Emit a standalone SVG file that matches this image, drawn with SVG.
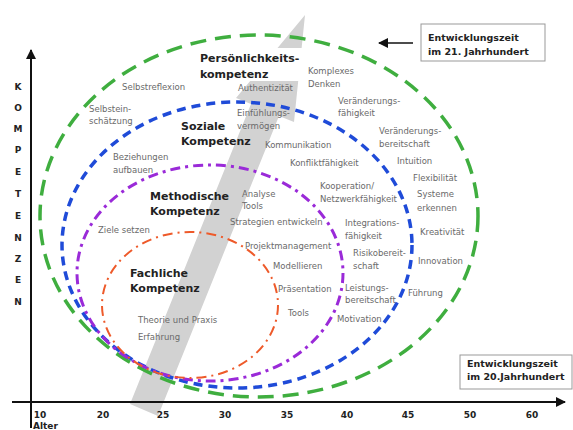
<svg xmlns="http://www.w3.org/2000/svg" width="573" height="430" viewBox="0 0 573 430">
<style>
text{font-family:"DejaVu Sans",Verdana,sans-serif}
.t{font-size:8.5px;fill:#6a6a6a}
.b{font-size:11px;font-weight:bold;fill:#222}
.bx{font-size:9.5px;font-weight:bold;fill:#222}
.ax{font-size:9px;font-weight:bold;fill:#222}
.v{font-size:9px;font-weight:bold;fill:#222;text-anchor:middle}
.ell{fill:none}
</style>
<defs>
<marker id="ah" markerWidth="10" markerHeight="10" refX="9" refY="5" orient="auto" markerUnits="userSpaceOnUse">
<path d="M0,0 L10,5 L0,10 z" fill="#111"/>
</marker>
</defs>
<rect width="573" height="430" fill="#fff"/>
<g id="band">
<polygon points="130,404 158,416 279,116 294,122 305,15 236,98 251,104" fill="#d2d2d2"/>
</g>
<g id="connectors">
<line x1="31" y1="428" x2="31" y2="50" stroke="#111" stroke-width="2" marker-end="url(#ah)"/>
<line x1="12" y1="402" x2="565" y2="402" stroke="#111" stroke-width="2" marker-end="url(#ah)"/>
<line x1="413" y1="43" x2="379" y2="43" stroke="#111" stroke-width="1.5" marker-end="url(#ah)"/>
</g>
<g id="ellipses">
<ellipse id="green" class="ell" cx="259" cy="216" rx="219" ry="181" stroke="#3fae3f" stroke-width="3.5" stroke-dasharray="16 9"/>
<ellipse id="blue" class="ell" cx="237" cy="245" rx="175" ry="143" stroke="#1f4bd8" stroke-width="3.5" stroke-dasharray="9 6"/>
<ellipse id="purple" class="ell" cx="210" cy="273" rx="133" ry="108" stroke="#9a2ad8" stroke-width="3" stroke-dasharray="10 5 3 5"/>
<ellipse id="red" class="ell" cx="190" cy="305" rx="88" ry="73" stroke="#ee5a2a" stroke-width="2" stroke-dasharray="10 5 2 5"/>
</g>
<g id="axis-labels">
<text class="v" x="18" y="90">K</text>
<text class="v" x="18" y="111">O</text>
<text class="v" x="18" y="132">M</text>
<text class="v" x="18" y="153">P</text>
<text class="v" x="18" y="175">E</text>
<text class="v" x="18" y="197">T</text>
<text class="v" x="18" y="219">E</text>
<text class="v" x="18" y="241">N</text>
<text class="v" x="18" y="262">Z</text>
<text class="v" x="18" y="283">E</text>
<text class="v" x="18" y="305">N</text>
<g text-anchor="middle">
<text class="ax" x="40" y="418">10</text>
<text class="ax" x="103" y="418">20</text>
<text class="ax" x="163" y="418">25</text>
<text class="ax" x="225" y="418">30</text>
<text class="ax" x="287" y="418">35</text>
<text class="ax" x="347" y="418">40</text>
<text class="ax" x="408" y="418">45</text>
<text class="ax" x="470" y="418">50</text>
<text class="ax" x="532" y="418">60</text>
</g>
<text class="ax" x="33" y="428.5">Alter</text>
</g>
<g id="box21">
<rect x="421" y="24" width="124" height="37" fill="#fff" stroke="#999" stroke-width="1"/>
<text class="bx" x="428" y="41">Entwicklungszeit</text>
<text class="bx" x="428" y="55">im 21. Jahrhundert</text>
</g>
<g id="box20">
<rect x="460" y="355" width="112" height="34" fill="#fff" stroke="#999" stroke-width="1"/>
<text class="bx" x="467" y="367">Entwicklungszeit</text>
<text class="bx" x="467" y="380">im 20.Jahrhundert</text>
</g>
<g id="persoenlichkeit">
<rect x="198" y="48" width="108" height="33" fill="#fff"/>
<text class="b" x="200" y="62">Persönlichkeits-</text>
<text class="b" x="200" y="78">kompetenz</text>
</g>
<g id="sozial">
<text class="b" x="181" y="130">Soziale</text>
<text class="b" x="181" y="145">Kompetenz</text>
</g>
<g id="methodisch">
<text class="b" x="150" y="200">Methodische</text>
<text class="b" x="150" y="215">Kompetenz</text>
</g>
<g id="fachlich">
<text class="b" x="130" y="277">Fachliche</text>
<text class="b" x="130" y="292">Kompetenz</text>
</g>
<g id="items">
<text class="t" x="122" y="90">Selbstreflexion</text>
<text class="t" x="89" y="112">Selbstein-</text>
<text class="t" x="89" y="124">schätzung</text>
<text class="t" x="113" y="160">Beziehungen</text>
<text class="t" x="113" y="173">aufbauen</text>
<text class="t" x="98" y="233">Ziele setzen</text>
<text class="t" x="138" y="323">Theorie und Praxis</text>
<text class="t" x="138" y="340">Erfahrung</text>
<text class="t" x="238" y="91">Authentizität</text>
<text class="t" x="237" y="116">Einfühlungs-</text>
<text class="t" x="237" y="129">vermögen</text>
<text class="t" x="265" y="148">Kommunikation</text>
<text class="t" x="290" y="166">Konfliktfähigkeit</text>
<text class="t" x="308" y="74">Komplexes</text>
<text class="t" x="308" y="87">Denken</text>
<text class="t" x="338" y="104">Veränderungs-</text>
<text class="t" x="338" y="116">fähigkeit</text>
<text class="t" x="379" y="134">Veränderungs-</text>
<text class="t" x="379" y="147">bereitschaft</text>
<text class="t" x="397" y="164">Intuition</text>
<text class="t" x="413" y="181">Flexibilität</text>
<text class="t" x="417" y="197">Systeme</text>
<text class="t" x="417" y="211">erkennen</text>
<text class="t" x="420" y="235">Kreativität</text>
<text class="t" x="418" y="264">Innovation</text>
<text class="t" x="408" y="296">Führung</text>
<text class="t" x="320" y="189">Kooperation/</text>
<text class="t" x="320" y="202">Netzwerkfähigkeit</text>
<text class="t" x="345" y="226">Integrations-</text>
<text class="t" x="345" y="239">fähigkeit</text>
<text class="t" x="353" y="256">Risikobereit-</text>
<text class="t" x="353" y="269">schaft</text>
<text class="t" x="345" y="291">Leistungs-</text>
<text class="t" x="345" y="303">bereitschaft</text>
<text class="t" x="337" y="322">Motivation</text>
<text class="t" x="242" y="197">Analyse</text>
<text class="t" x="242" y="209">Tools</text>
<text class="t" x="230" y="225">Strategien entwickeln</text>
<text class="t" x="245" y="249">Projektmanagement</text>
<text class="t" x="273" y="269">Modellieren</text>
<text class="t" x="278" y="292">Präsentation</text>
<text class="t" x="288" y="316">Tools</text>
</g>
</svg>
